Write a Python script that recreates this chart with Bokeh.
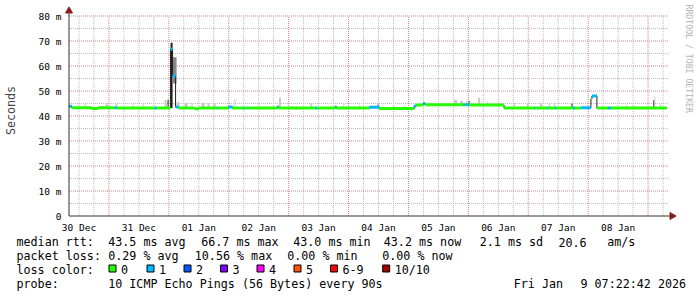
from bokeh.plotting import figure
from bokeh.models import FixedTicker, Range1d
from bokeh.layouts import column
from bokeh.core.properties import value
from bokeh.embed import file_html
from bokeh.resources import INLINE
import math

# time axis: hours since 30 Dec 00:00
t_axis = 8.0
t_grid_end = 248.2
data_end = 247.5

# median RTT (ms) as steps: start hour, value, loss count
med_start = [8.0, 9.1, 17.1, 19.5, 26.3, 27.1, 42.3, 43.1, 48.7, 49.5, 50.7, 51.9,
             58.3, 59.9, 67.1, 67.5, 71.9, 73.5, 77.9, 78.3, 80.3, 80.7, 91.5, 91.9,
             106.7, 107.5, 114.7, 115.1, 128.3, 132.3, 146.3, 147.1, 149.9, 150.7,
             165.9, 166.7, 167.1, 168.3, 182.3, 194.3, 194.7, 199.5, 199.9, 202.7,
             203.1, 209.9, 210.7, 213.1, 217.1, 217.5, 219.5, 223.9, 225.1]
med_value = [43.9, 43.3, 43.0, 43.3, 43.3, 43.2, 43.2, 43.2, 66.7, 56.0, 43.6, 43.2,
             42.9, 43.2, 43.2, 43.2, 43.6, 43.2, 43.2, 43.2, 43.2, 43.2, 43.7, 43.2,
             43.2, 43.2, 43.7, 43.2, 43.5, 43.0, 44.0, 44.4, 45.0, 44.5,
             44.5, 44.5, 44.5, 44.4, 43.2, 43.2, 43.2, 43.2, 43.2, 43.2,
             43.2, 43.2, 43.2, 43.3, 46.8, 48.0, 43.2, 43.2, 43.2]
med_loss = [1, 0, 0, 0, 1, 0, 1, 0, 1, 1, 1, 0,
            0, 0, 1, 0, 1, 0, 1, 0, 1, 0, 1, 0,
            1, 0, 1, 0, 1, 0, 1, 0, 1, 0,
            1, 0, 1, 0, 0, 1, 0, 1, 0, 1,
            0, 1, 0, 1, 0, 1, 0, 1, 0]

# smoke (ping spread): start hour, end hour, low ms, high ms, shade level
smoke_x0 = [14.3, 22.7, 26.7, 33.5, 37.5, 46.3, 47.5, 48.7, 49.5, 51.1, 54.3, 57.1,
            61.1, 63.5, 65.9, 74.3, 92.1, 104.7, 117.9, 124.3, 131.5, 137.9, 142.3,
            162.3, 164.7, 167.1, 167.9, 171.9, 175.5, 186.3, 191.5, 196.7, 200.3,
            202.3, 209.1, 231.1, 233.9, 242.1, 242.5, 244.7]
smoke_x1 = [14.7, 23.5, 27.3, 33.9, 37.9, 47.1, 47.9, 49.5, 51.1, 52.3, 55.5, 57.5,
            62.3, 64.3, 66.7, 74.7, 92.9, 105.5, 118.3, 124.7, 132.3, 138.3, 142.7,
            163.5, 165.9, 167.5, 168.7, 172.7, 175.9, 186.7, 191.9, 197.5, 200.7,
            202.7, 209.9, 231.5, 234.3, 242.5, 242.9, 245.1]
smoke_lo = [43.3, 43.3, 43.3, 43.2, 43.2, 43.2, 43.2, 43.2, 53.0, 43.5, 43.2, 43.2,
            43.2, 43.2, 43.2, 43.2, 43.2, 43.2, 43.2, 43.2, 43.2, 43.0, 43.0,
            44.5, 44.5, 44.5, 44.5, 44.5, 44.5, 43.2, 43.2, 43.2, 43.2,
            43.2, 43.2, 43.2, 43.2, 43.2, 43.2, 43.2]
smoke_hi = [45.2, 45.2, 45.0, 45.2, 44.8, 46.4, 46.5, 69.3, 63.5, 45.5, 45.2, 45.0,
            45.2, 45.2, 45.0, 46.8, 47.4, 45.2, 45.0, 44.5, 44.6, 44.5, 44.3,
            46.5, 46.0, 46.0, 46.0, 47.3, 45.8, 45.2, 45.2, 45.2, 45.2,
            45.0, 45.0, 44.5, 44.5, 46.3, 47.8, 44.8]
smoke_level = [0, 0, 0, 0, 0, 0, 2, 2, 1, 0, 0, 0,
               0, 0, 0, 0, 0, 0, 0, 0, 1, 0, 0,
               0, 0, 0, 1, 0, 0, 0, 0, 0, 0,
               0, 1, 0, 0, 2, 0, 0]
smoke_shades = ["#c8c8c8", "#888888", "#202020"]

loss_labels = ["0", "1", "2", "3", "4", "5", "6-9", "10/10"]
loss_colors = ["#26ff00", "#00b8ff", "#0059ff", "#7e00ff", "#ff00ff", "#ff5500", "#ff0000", "#a00000"]

x_tick_pos = [12, 36, 60, 84, 108, 132, 156, 180, 204, 228]
x_tick_labels = ["30 Dec", "31 Dec", "01 Jan", "02 Jan", "03 Jan", "04 Jan", "05 Jan", "06 Jan", "07 Jan", "08 Jan"]
x_major_grid = [24, 48, 72, 96, 120, 144, 168, 192, 216, 240]
x_minor_grid = [12, 18, 30, 36, 42, 54, 60, 66, 78, 84, 90, 102, 108, 114, 126, 132, 138,
                150, 156, 162, 174, 180, 186, 198, 204, 210, 222, 228, 234, 246]
y_tick_pos = [0, 10, 20, 30, 40, 50, 60, 70, 80]
y_tick_labels = ["0", "10 m", "20 m", "30 m", "40 m", "50 m", "60 m", "70 m", "80 m"]
y_major_grid = [10, 20, 30, 40, 50, 60, 70, 80]
y_minor_grid = [5, 15, 25, 35, 45, 55, 65, 75]

stats_rtt = [("median rtt:", 16), ("43.5 ms avg", 107.7), ("66.7 ms max", 200.7), ("43.0 ms min", 292.7),
             ("43.2 ms now", 383.3), ("2.1 ms sd", 479.3), ("20.6", 558), ("am/s", 606.7)]
stats_loss = [("packet loss:", 16), ("0.29 % avg", 107.7), ("10.56 % max", 194.3), ("0.00 % min", 286.7),
              ("0.00 % now", 381.7)]
legend_title = [("loss color:", 16)]
legend_box_x = [108, 146, 183, 219.5, 256, 293, 329.5, 381.7]
probe_line = [("probe:", 16), ("10 ICMP Echo Pings (56 Bytes) every 90s", 107.7),
              ("Fri Jan", 513.3), ("9 07:22:42 2026", 580)]

MONO = "DejaVu Sans Mono"
W = 697
TOP_H = 235
FOOT_H = 297 - TOP_H

# ---------------- main graph ----------------
# frame: x 62..697 px, y 0..220 px ; 2.5 px per hour, 2.5 px per ms
p = figure(width=W, height=TOP_H, output_backend="svg", toolbar_location=None,
           x_range=Range1d(5.8, 259.8), y_range=Range1d(-1.8, 86.2),
           min_border_left=62, min_border_right=0, min_border_top=0, min_border_bottom=15)
p.frame_align = False
p.background_fill_color = "white"
p.border_fill_color = "white"
p.outline_line_color = None
p.xgrid.visible = False
p.ygrid.visible = False

for ax in (p.xaxis[0], p.yaxis[0]):
    ax.axis_line_color = None
    ax.major_tick_line_color = None
    ax.minor_tick_line_color = None
    ax.major_tick_out = 0
    ax.major_tick_in = 0
    ax.minor_tick_out = 0
    ax.minor_tick_in = 0
    ax.major_label_text_font = MONO
    ax.major_label_text_font_size = "9.5px"
    ax.major_label_text_color = "black"

p.xaxis[0].ticker = FixedTicker(ticks=x_tick_pos)
p.xaxis[0].major_label_overrides = {k: v for k, v in zip(x_tick_pos, x_tick_labels)}
p.xaxis[0].major_label_standoff = 1
p.yaxis[0].ticker = FixedTicker(ticks=y_tick_pos)
p.yaxis[0].major_label_overrides = {k: v for k, v in zip(y_tick_pos, y_tick_labels)}
p.yaxis[0].major_label_standoff = 2
p.yaxis[0].axis_label = "Seconds"
p.yaxis[0].axis_label_text_font = MONO
p.yaxis[0].axis_label_text_font_size = "11.7px"
p.yaxis[0].axis_label_text_font_style = "normal"
p.yaxis[0].axis_label_standoff = 18

minor_col = "#bdbdbd"
major_col = "#dd8080"
# grid lines (minor then major)
p.segment(x0=x_minor_grid, y0=[0] * len(x_minor_grid), x1=x_minor_grid, y1=[80] * len(x_minor_grid),
          line_color=minor_col, line_dash="1 1", line_width=1)
p.segment(x0=[t_axis] * len(y_minor_grid), y0=y_minor_grid, x1=[t_grid_end] * len(y_minor_grid), y1=y_minor_grid,
          line_color=minor_col, line_dash="1 1", line_width=1)
p.segment(x0=x_major_grid, y0=[0] * len(x_major_grid), x1=x_major_grid, y1=[80] * len(x_major_grid),
          line_color=major_col, line_dash="1 1", line_width=1)
p.segment(x0=[t_axis] * len(y_major_grid), y0=y_major_grid, x1=[t_grid_end] * len(y_major_grid), y1=y_major_grid,
          line_color=major_col, line_dash="1 1", line_width=1)

# smoke
p.quad(left=smoke_x0, right=smoke_x1, bottom=smoke_lo, top=smoke_hi,
       fill_color=[smoke_shades[s] for s in smoke_level], line_color=None)

# median connector line
step_x = med_start + [data_end]
step_y = med_value + [med_value[-1]]
p.step(step_x, step_y, mode="after", line_color="#202020", line_width=1)

# median band coloured by loss
band_w = 0.6
med_end = med_start[1:] + [data_end]
p.quad(left=med_start, right=med_end,
       bottom=[v - band_w for v in med_value], top=[v + band_w for v in med_value],
       fill_color=[loss_colors[l] for l in med_loss], line_color=None)

# axis lines and arrows
axis_color = "#333333"
arrow_color = "#8c1c1c"
p.segment(x0=[t_axis, t_axis], y0=[0, 0], x1=[249.0, t_axis], y1=[0, 81.0],
          line_color=axis_color, line_width=1)
p.scatter(x=[249.6], y=[0], marker="triangle", size=7, angle=-math.pi / 2,
          fill_color=arrow_color, line_color=arrow_color)
p.scatter(x=[t_axis], y=[82.0], marker="triangle", size=7,
          fill_color=arrow_color, line_color=arrow_color)

p.text(x=[256.2], y=[84.6], text=["RRDTOOL / TOBI OETIKER"], angle=-math.pi / 2,
       text_font=value(MONO), text_font_size="8.2px", text_color="#b4b4b4",
       text_align="left", text_baseline="middle")

# ---------------- footer (legend / stats) ----------------
f = figure(width=W, height=FOOT_H, output_backend="svg", toolbar_location=None,
           x_range=Range1d(0, W), y_range=Range1d(297, TOP_H),
           min_border=0, min_border_left=0, min_border_right=0, min_border_top=0, min_border_bottom=0,
           x_axis_type=None, y_axis_type=None)
f.frame_align = False
f.background_fill_color = "white"
f.border_fill_color = "white"
f.outline_line_color = None
f.grid.visible = False

rows = [(stats_rtt, 241.5), (stats_loss, 255.5), (legend_title, 269), (probe_line, 283.5)]
tx, ty, tt = [], [], []
for items, base in rows:
    for t, x in items:
        tx.append(x)
        ty.append(base)
        tt.append(t)
for bx, lab in zip(legend_box_x, loss_labels):
    tx.append(bx + 12.5)
    ty.append(269)
    tt.append(lab)
f.text(x=tx, y=ty, text=tt, text_font=value(MONO), text_font_size="11.7px", text_color="black",
       text_align="left", text_baseline="alphabetic")
f.quad(left=[b + 0.5 for b in legend_box_x], right=[b + 7.5 for b in legend_box_x],
       top=[264.5] * len(legend_box_x), bottom=[271.5] * len(legend_box_x),
       fill_color=loss_colors, line_color="black", line_width=1)

layout = column(p, f, spacing=0)
open("out.html", "w").write(file_html(layout, INLINE))
